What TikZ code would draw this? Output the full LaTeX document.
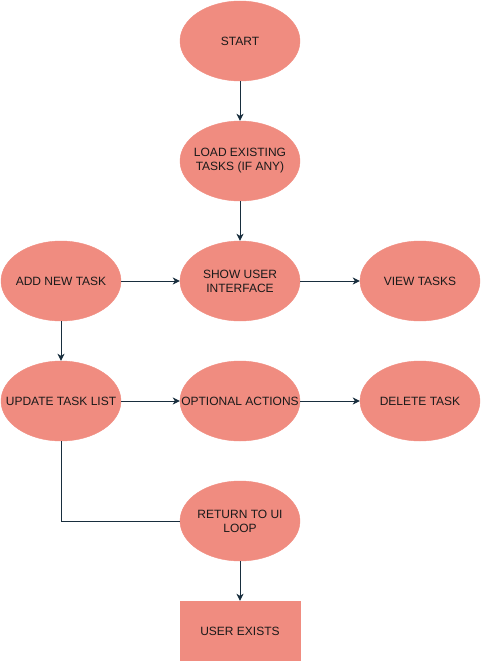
\documentclass[tikz,border=0pt]{standalone}
\usepackage{fontspec}
\setmainfont{Liberation Sans}
\usetikzlibrary{shapes.geometric,arrows.meta}
\definecolor{nodefill}{HTML}{F08C80}
\definecolor{linecol}{HTML}{182E3E}
\definecolor{txt}{HTML}{1A1A1A}
\begin{document}
\begin{tikzpicture}[x=1pt,y=-1pt,
  lbl/.style={align=center,text=txt,font=\fontsize{12}{14}\selectfont,inner sep=0pt},
  ell/.style={ellipse,fill=nodefill,draw=nodefill,minimum width=120pt,minimum height=80pt,inner sep=0pt,
    label={[lbl]center:#1}},
  box/.style={rectangle,fill=nodefill,draw=nodefill,minimum width=120pt,minimum height=60pt,inner sep=0pt,
    label={[lbl]center:#1}},
  conn/.style={draw=linecol,line width=1pt},
  arr/.style={conn,-{Stealth[length=7pt,width=7pt,inset=2pt]}}]
\useasboundingbox (0,0) rectangle (481,661);
\node[ell={START}] (start) at (240,41) {};
\node[ell={LOAD EXISTING\\TASKS (IF ANY)}] (load) at (240,161) {};
\node[ell={ADD NEW TASK}] (add) at (61,281) {};
\node[ell={SHOW USER\\INTERFACE}] (show) at (240,281) {};
\node[ell={VIEW TASKS}] (view) at (420,281) {};
\node[ell={UPDATE TASK LIST}] (upd) at (61,401) {};
\node[ell={OPTIONAL ACTIONS}] (opt) at (240,401) {};
\node[ell={DELETE TASK}] (del) at (420,401) {};
\node[ell={RETURN TO UI\\LOOP}] (ret) at (240,521) {};
\node[box={USER EXISTS}] (exit) at (240,631) {};
\draw[arr] (start) -- (load);
\draw[arr] (load) -- (show);
\draw[arr] (add) -- (show);
\draw[arr] (show) -- (view);
\draw[arr] (add) -- (upd);
\draw[arr] (upd) -- (opt);
\draw[arr] (opt) -- (del);
\draw[conn] (upd.south) |- (ret.west);
\draw[arr] (ret) -- (exit);
\end{tikzpicture}
\end{document}
